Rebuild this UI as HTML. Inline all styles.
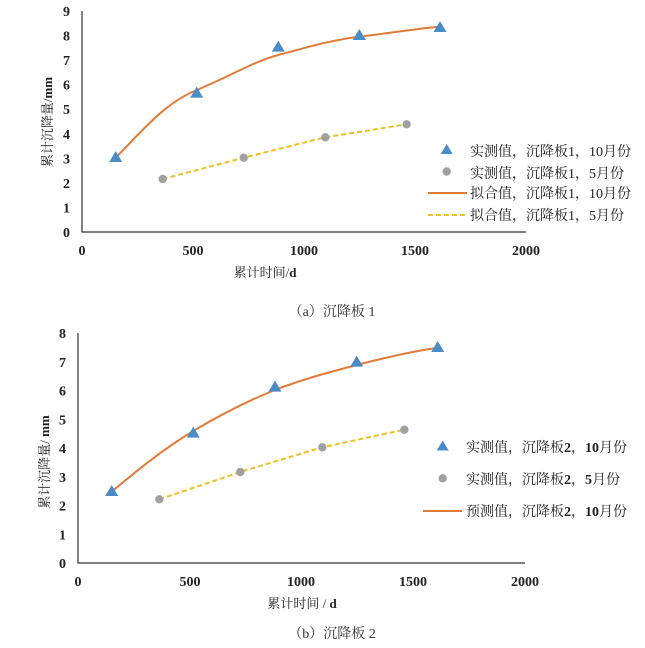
<!DOCTYPE html>
<html><head><meta charset="utf-8"><style>
body{margin:0;background:#fff;}
svg{display:block;}
.t{font-family:"Liberation Serif","Noto Serif CJK SC",serif;font-weight:bold;font-size:14px;fill:#222;}
.c{font-family:"Liberation Serif","Noto Serif CJK SC",serif;font-size:13px;fill:#222;}
.l{font-family:"Liberation Serif","Noto Serif CJK SC",serif;font-size:14px;fill:#222;}
.cap{font-family:"Liberation Serif","Noto Serif CJK SC",serif;font-size:14px;fill:#333;}
</style></head><body>
<svg width="645" height="648" viewBox="0 0 645 648">
<!-- Chart 1 -->
<path d="M82,11V232H526" stroke="#333" stroke-width="1.2" fill="none"/>
<g class="t" text-anchor="end">
<text x="70" y="237">0</text><text x="70" y="212.4">1</text><text x="70" y="187.9">2</text><text x="70" y="163.3">3</text><text x="70" y="138.8">4</text><text x="70" y="114.2">5</text><text x="70" y="89.7">6</text><text x="70" y="65.1">7</text><text x="70" y="40.6">8</text><text x="70" y="16">9</text>
</g>
<g class="t" text-anchor="middle">
<text x="82" y="255">0</text><text x="193" y="255">500</text><text x="304" y="255">1000</text><text x="415" y="255">1500</text><text x="526" y="255">2000</text>
</g>
<text class="c" x="265" y="277" text-anchor="middle">累计时间/<tspan font-weight="bold">d</tspan></text>
<text class="c" transform="translate(52,122) rotate(-90)" text-anchor="middle">累计沉降量/<tspan font-weight="bold">mm</tspan></text>
<path d="M115.7,157.7 C145,128 165,103 196.7,90 S255,61 278.3,55 S330,40 359.3,36.7 S420,28 440,26.7" stroke="#e07b39" stroke-width="2" fill="none"/>
<polyline points="162.7,179 243.7,157.7 325.3,137.3 406.7,124.3" stroke="#f0c020" stroke-width="2" stroke-dasharray="5,3" fill="none"/>
<g fill="#4a8cc8">
<path d="M115.7,151 l-6.5,11h13z"/><path d="M196.7,86.6 l-6.5,11h13z"/><path d="M278.3,40.6 l-6.5,11h13z"/><path d="M359.3,29 l-6.5,11h13z"/><path d="M440,21 l-6.5,11h13z"/>
</g>
<g fill="#a0a0a0">
<circle cx="162.7" cy="179" r="4.2"/><circle cx="243.7" cy="157.7" r="4.2"/><circle cx="325.3" cy="137.3" r="4.2"/><circle cx="406.7" cy="124.3" r="4.2"/>
</g>
<path d="M446.7,144 l-6,10h12z" fill="#4a8cc8"/>
<circle cx="446.7" cy="171.5" r="4.2" fill="#a0a0a0"/>
<line x1="428" y1="193" x2="467" y2="193" stroke="#e07b39" stroke-width="2"/>
<line x1="428" y1="215" x2="467" y2="215" stroke="#f0c020" stroke-width="2" stroke-dasharray="5,3"/>
<g class="l">
<text x="470" y="156">实测值，沉降板1，10月份</text>
<text x="470" y="178">实测值，沉降板1，5月份</text>
<text x="470" y="198">拟合值，沉降板1，10月份</text>
<text x="470" y="220">拟合值，沉降板1，5月份</text>
</g>
<text class="cap" x="332" y="316" text-anchor="middle">（a）沉降板 1</text>

<!-- Chart 2 -->
<path d="M78,333V563H525" stroke="#333" stroke-width="1.2" fill="none"/>
<g class="t" text-anchor="end">
<text x="66" y="568">0</text><text x="66" y="539.3">1</text><text x="66" y="510.5">2</text><text x="66" y="481.8">3</text><text x="66" y="453">4</text><text x="66" y="424.3">5</text><text x="66" y="395.5">6</text><text x="66" y="366.8">7</text><text x="66" y="338">8</text>
</g>
<g class="t" text-anchor="middle">
<text x="78" y="586">0</text><text x="190" y="586">500</text><text x="301" y="586">1000</text><text x="413" y="586">1500</text><text x="525" y="586">2000</text>
</g>
<text class="c" x="302" y="608" text-anchor="middle">累计时间 / <tspan font-weight="bold">d</tspan></text>
<text class="c" transform="translate(49,462) rotate(-90)" text-anchor="middle">累计沉降量/ <tspan font-weight="bold">mm</tspan></text>
<path d="M111.7,491.7 C140,468 165,448 193.3,431 S250,400 275,390 S330,372 356.7,365 S415,351 437.7,347.7" stroke="#e07b39" stroke-width="2" fill="none"/>
<polyline points="159.3,499.3 240.3,472 322.3,447.3 404.3,429.7" stroke="#f0c020" stroke-width="2" stroke-dasharray="5,3" fill="none"/>
<g fill="#4a8cc8">
<path d="M111.7,485 l-6.5,11h13z"/><path d="M193.3,426.6 l-6.5,11h13z"/><path d="M275,380.6 l-6.5,11h13z"/><path d="M356.7,355.6 l-6.5,11h13z"/><path d="M437.7,341 l-6.5,11h13z"/>
</g>
<g fill="#a0a0a0">
<circle cx="159.3" cy="499.3" r="4.2"/><circle cx="240.3" cy="472" r="4.2"/><circle cx="322.3" cy="447.3" r="4.2"/><circle cx="404.3" cy="429.7" r="4.2"/>
</g>
<path d="M442.7,440.5 l-6,10h12z" fill="#4a8cc8"/>
<circle cx="442.7" cy="478.3" r="4.2" fill="#a0a0a0"/>
<line x1="423" y1="511" x2="462" y2="511" stroke="#e07b39" stroke-width="2"/>
<g class="l">
<text x="466" y="452">实测值，沉降板<tspan font-weight="bold">2</tspan>，<tspan font-weight="bold">10</tspan>月份</text>
<text x="466" y="484">实测值，沉降板<tspan font-weight="bold">2</tspan>，<tspan font-weight="bold">5</tspan>月份</text>
<text x="466" y="516">预测值，沉降板<tspan font-weight="bold">2</tspan>，<tspan font-weight="bold">10</tspan>月份</text>
</g>
<text class="cap" x="332" y="638" text-anchor="middle">（b）沉降板 2</text>
</svg>
</body></html>
